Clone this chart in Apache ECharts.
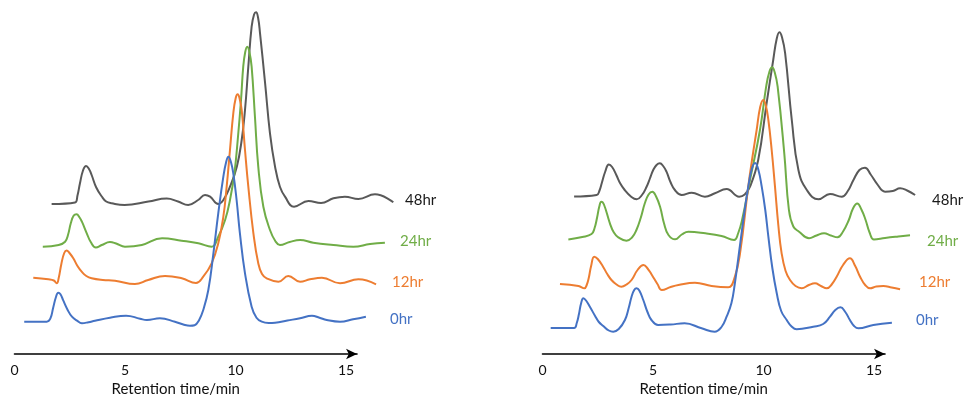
<!DOCTYPE html>
<html>
<head>
<meta charset="utf-8">
<title>Retention time chromatograms</title>
<script src="https://cdn.jsdelivr.net/npm/echarts@6/dist/echarts.min.js"></script>
<style>
  html, body { margin: 0; padding: 0; background: #ffffff; }
  #chart { width: 968px; height: 402px; }
</style>
</head>
<body>
<div id="chart"></div>
<script>
// Sampling times shown as stacked traces, bottom to top
const sampleLabels = ['0hr', '12hr', '24hr', '48hr'];
const tickValues = [0, 5, 10, 15];
const axisTitle = 'Retention time/min';

// Left panel: [retention time (min), detector response]
const leftTrace0hr = [
  [0.44, 0], [1.46, 0], [1.62, 3], [1.75, 14], [1.88, 25], [1.98, 29], [2.08, 27.5], [2.2, 21.5],
  [2.4, 12], [2.6, 5], [2.83, 1], [3.05, -1.5], [3.35, -0.5], [3.64, 1], [4.32, 4], [5.05, 6],
  [5.68, 3], [5.99, 1.7], [6.58, 3.4], [7.26, 0], [7.67, -3], [7.94, -4], [8.15, -3.5],
  [8.35, 1.5], [8.54, 11.7], [8.77, 31.7], [9.0, 68.4], [9.22, 108.4], [9.45, 145], [9.58, 160],
  [9.68, 165], [9.79, 160], [9.9, 148.4], [10.05, 121.7], [10.2, 88.4], [10.43, 48.4],
  [10.73, 15], [10.95, 4], [11.19, 0], [11.5, -1.3], [11.79, -1], [12.35, 1.2], [12.92, 3.4],
  [13.46, 6], [13.8, 4], [14.13, 1.7], [14.73, 0], [15.32, 2.4], [15.9, 5]
];
const leftTrace12hr = [
  [0.85, 3.3], [1.53, 1.7], [1.78, 0.5], [1.91, -2.3], [2.0, 3], [2.12, 17], [2.25, 28],
  [2.36, 30.5], [2.47, 28.5], [2.66, 22.7], [2.85, 15], [3.04, 9.3], [3.25, 5], [3.49, 2.7],
  [4.0, 1], [4.55, 0.3], [5.45, -3], [6.05, 1], [6.81, 5], [7.57, 2.7], [8.21, -2], [8.54, 4.3],
  [8.92, 17.7], [9.22, 37.7], [9.45, 64.3], [9.6, 94.3], [9.75, 131], [9.9, 167.7],
  [10.01, 183], [10.1, 186.7], [10.19, 182], [10.28, 171], [10.43, 131], [10.58, 94.3],
  [10.81, 47.7], [11.03, 17.7], [11.2, 7], [11.41, 2.7], [11.94, -0.7], [12.39, 5],
  [12.92, -0.7], [13.37, 1.7], [13.91, 3.3], [14.73, -2.3], [15.56, 1.7], [16.36, -3.3]
];
const leftTrace24hr = [
  [1.28, -1.7], [2.0, 0], [2.29, 3.3], [2.42, 10], [2.55, 22], [2.68, 29.5], [2.81, 30.7],
  [2.93, 28], [3.05, 23.3], [3.27, 11.7], [3.45, 3], [3.68, -2.5], [3.95, 0], [4.32, 3],
  [4.6, 1.5], [5.0, -1.7], [5.76, 0], [6.68, 6.7], [7.56, 4.3], [8.32, 1.7], [8.92, -1.7],
  [9.22, 8.3], [9.53, 25], [9.75, 45], [9.95, 71.7], [10.1, 105], [10.25, 145], [10.35, 178.3],
  [10.44, 193], [10.53, 198.3], [10.63, 193], [10.73, 178.3], [10.88, 128.3], [11.03, 78.3],
  [11.26, 38.3], [11.56, 15], [11.8, 4], [12.01, 0], [12.45, 3], [12.92, 5], [13.52, 2.3],
  [14.43, 0], [15.33, -1.7], [16.09, 1], [16.76, 2.3]
];
const leftTrace48hr = [
  [1.68, -0.5], [2.74, 1], [2.85, 8], [2.96, 20], [3.1, 33], [3.24, 37.5], [3.37, 34.5],
  [3.49, 28.5], [3.7, 16], [3.95, 7], [4.15, 2], [4.4, 0.2], [4.98, -1.5], [6.06, 2], [6.89, 5],
  [7.4, 2], [7.86, -1.5], [8.31, 3.5], [8.62, 8.5], [8.85, 6.8], [9.22, -0.5], [9.45, 3.5],
  [9.75, 16.8], [10.06, 36.8], [10.28, 63.5], [10.43, 93.5], [10.58, 136.8], [10.73, 176.8],
  [10.84, 189], [10.93, 191.2], [11.02, 186], [11.11, 170.2], [11.34, 120.2], [11.56, 70.2],
  [11.79, 36.8], [12.01, 16.8], [12.24, 6.8], [12.65, -3.2], [13.3, 2.5], [13.87, 0.5],
  [14.43, 5.2], [14.95, 6.8], [15.56, 4.5], [16.31, 9.2], [17.14, 1.2]
];

// Right panel: [retention time (min), detector response]
const rightTrace0hr = [
  [0.37, 0], [1.43, 0], [1.55, 5], [1.65, 14], [1.75, 25], [1.85, 29.7], [1.97, 27.5],
  [2.15, 21], [2.38, 12], [2.55, 6], [2.75, 2], [3.0, -2.5], [3.2, -3.7], [3.45, -1], [3.73, 8],
  [3.9, 20], [4.03, 31.3], [4.15, 38], [4.26, 39.7], [4.38, 37.5], [4.56, 28], [4.75, 16],
  [4.93, 8], [5.23, 3], [5.8, 3.5], [6.43, 4.7], [7.2, -0.3], [7.79, -3.7], [8.1, 1],
  [8.33, 11.3], [8.55, 25], [8.7, 44], [8.95, 85], [9.15, 118], [9.31, 141.3], [9.47, 159],
  [9.62, 165], [9.77, 158], [9.92, 141.3], [10.08, 118], [10.22, 91.3], [10.4, 60],
  [10.6, 34.7], [10.8, 17], [11.05, 8], [11.25, 2], [11.5, -1.3], [12.25, 1.3], [12.7, 4],
  [13.01, 11.3], [13.25, 18], [13.48, 20.7], [13.7, 16], [13.91, 8], [14.1, 2], [14.29, -0.3],
  [14.97, 3], [15.81, 5.3]
];
const rightTrace12hr = [
  [0.79, 1], [1.63, -1], [1.9, -3.3], [2.0, 0], [2.09, 6.7], [2.2, 19], [2.34, 28.3], [2.5, 26],
  [2.74, 18.3], [2.93, 11], [3.12, 5], [3.35, 0.5], [3.57, -1.7], [3.8, 0.5], [4.03, 5],
  [4.3, 15], [4.57, 20], [4.77, 16], [4.95, 10], [5.2, 1], [5.4, -5], [5.8, -2], [6.15, 0],
  [6.9, 2.3], [7.65, -1], [8.4, -2.3], [8.7, 8], [8.94, 32], [9.31, 98.3], [9.5, 128],
  [9.69, 155], [9.85, 178], [9.99, 185], [10.1, 180], [10.22, 165], [10.37, 135], [10.52, 98.3],
  [10.67, 60], [10.82, 31.7], [11.0, 14], [11.2, 5], [11.45, -1], [11.73, -3.3], [12.05, 0],
  [12.33, 1.7], [12.6, -1], [12.86, -3.3], [13.1, 1], [13.31, 8.3], [13.6, 20], [13.91, 26.7],
  [14.15, 19], [14.37, 8.3], [14.6, 0], [14.82, -3.3], [15.1, -1.5], [15.42, -1], [15.8, -2.5],
  [16.18, -4.3]
];
const rightTrace24hr = [
  [1.17, 0], [1.8, 2.5], [2.22, 5.5], [2.35, 11], [2.47, 22], [2.57, 33], [2.66, 37.8],
  [2.78, 35], [3.05, 16.2], [3.23, 7], [3.43, 2.2], [3.8, -1.2], [4.05, 2], [4.25, 9.5],
  [4.45, 22], [4.63, 36.2], [4.8, 45], [4.97, 47.8], [5.13, 43.5], [5.32, 32.8], [5.5, 16],
  [5.7, 4.5], [6.0, 0.2], [6.3, 5], [6.6, 7.8], [7.37, 6.2], [8.1, 3.5], [8.67, -0.5],
  [8.85, 6], [9.03, 19.5], [9.39, 59.5], [9.84, 109.5], [10.12, 152.8], [10.27, 168],
  [10.39, 172.2], [10.51, 167], [10.64, 152.8], [10.94, 86.2], [11.15, 29.5], [11.35, 13],
  [11.61, 7.8], [12.06, 1.2], [12.4, 4], [12.74, 6.2], [13.05, 4], [13.35, 2.2], [13.6, 8],
  [13.86, 19.5], [14.05, 31], [14.24, 36], [14.43, 30], [14.62, 19.5], [14.8, 7], [15.0, 0],
  [15.5, 1.5], [16.1, 3], [16.63, 4.2]
];
const rightTrace48hr = [
  [1.43, 0], [2.45, 1.5], [2.58, 6], [2.68, 13.2], [2.84, 25], [3.0, 32], [3.15, 29.5],
  [3.34, 21.5], [3.52, 13], [3.72, 6.5], [4.0, 0], [4.26, -2.8], [4.5, 1.5], [4.71, 9.8],
  [4.86, 18], [5.01, 26.5], [5.16, 31.5], [5.31, 33.2], [5.46, 30.5], [5.61, 24.8], [5.8, 14],
  [5.99, 6.5], [6.3, 1.5], [6.75, 3.8], [7.35, -0.2], [7.8, 3.2], [8.33, 7.5], [8.9, -0.2],
  [9.15, 2], [9.39, 9.8], [9.76, 36.5], [10.14, 93.2], [10.44, 136.5], [10.6, 158],
  [10.72, 164.2], [10.84, 159], [10.98, 143.2], [11.28, 76.5], [11.58, 26.5], [11.96, 6.5],
  [12.49, -2.8], [13.01, 2.5], [13.54, -0.2], [13.8, 5], [14.07, 16.5], [14.34, 26.5],
  [14.59, 28.8], [14.85, 22], [15.12, 13.2], [15.5, 4.8], [15.85, 5.5], [16.18, 8.2],
  [16.5, 6], [16.86, 1.5]
];

// Display settings
const traceColors = ['#4472C4', '#ED7D31', '#70AD47', '#595959'];
const labelColors = ['#4472C4', '#ED7D31', '#70AD47', '#1a1a1a'];
// vertical stacking of each trace above the time axis (response units)
const stackOffsets = [
  [33.3, 74, 110, 151.5],
  [27, 70, 115.5, 158.5]
];
const panels = [
  { left: 14.5, traces: [leftTrace0hr, leftTrace12hr, leftTrace24hr, leftTrace48hr],
    labelPos: [[390, 321], [392, 284], [400, 243], [405, 202]] },
  { left: 542.5, traces: [rightTrace0hr, rightTrace12hr, rightTrace24hr, rightTrace48hr],
    labelPos: [[916, 322], [919, 284], [927, 243], [932, 202]] }
];

const FONT = 'Lato, "Noto Sans", sans-serif';
const AXIS_MAX = 15.5;   // arrow tip of the time axis
const DATA_MAX = 18;     // traces run past the arrow tip
const PX_PER_MIN = 22.1;
const Y_MAX = 355;

const grids = [], xAxes = [], yAxes = [], series = [], graphics = [];

panels.forEach((p, gi) => {
  const dataGrid = grids.length;
  // grid holding the traces
  grids.push({ left: p.left, width: PX_PER_MIN * DATA_MAX, top: 0, bottom: 47 });
  xAxes.push({ gridIndex: dataGrid, type: 'value', min: 0, max: DATA_MAX, show: false });
  yAxes.push({ gridIndex: dataGrid, type: 'value', min: 0, max: Y_MAX, show: false });

  // grid carrying the visible time axis with its arrow
  const axisGrid = grids.length;
  grids.push({ left: p.left, width: PX_PER_MIN * AXIS_MAX, top: 0, bottom: 47 });
  xAxes.push({
    gridIndex: axisGrid, type: 'value', min: 0, max: AXIS_MAX, interval: 5,
    axisLine: { show: true, symbol: ['none', 'arrow'], symbolSize: [8, 11],
      lineStyle: { color: '#000', width: 1.6 } },
    axisTick: { show: false },
    splitLine: { show: false },
    axisLabel: { showMaxLabel: false, margin: 9, color: '#111', fontSize: 14, fontFamily: FONT,
      formatter: v => (tickValues.indexOf(v) >= 0 ? String(v) : '') },
    name: axisTitle, nameLocation: 'middle', nameGap: 28,
    nameTextStyle: { color: '#111', fontSize: 15, fontFamily: FONT, padding: [0, 20, 0, 0] }
  });
  yAxes.push({ gridIndex: axisGrid, type: 'value', min: 0, max: Y_MAX, show: false });

  // back traces first so the 0hr trace sits in front
  for (let i = p.traces.length - 1; i >= 0; i--) {
    const off = stackOffsets[gi][i];
    series.push({
      name: sampleLabels[i] + (gi ? ' (b)' : ' (a)'),
      type: 'line', xAxisIndex: dataGrid, yAxisIndex: dataGrid,
      data: p.traces[i].map(d => [d[0], d[1] + off]),
      showSymbol: false, symbol: 'none', smooth: 0.45, clip: false,
      lineStyle: { color: traceColors[i], width: 2 },
      z: 2 + (p.traces.length - i)
    });
    graphics.push({
      type: 'text', left: p.labelPos[i][0], top: p.labelPos[i][1] - 9,
      style: { text: sampleLabels[i], fill: labelColors[i], fontSize: 15, fontFamily: FONT }
    });
  }
});

const chart = echarts.init(document.getElementById('chart'), null, { renderer: 'canvas' });
chart.setOption({
  animation: false,
  backgroundColor: '#ffffff',
  grid: grids,
  xAxis: xAxes,
  yAxis: yAxes,
  series: series,
  graphic: graphics
});
</script>
</body>
</html>
